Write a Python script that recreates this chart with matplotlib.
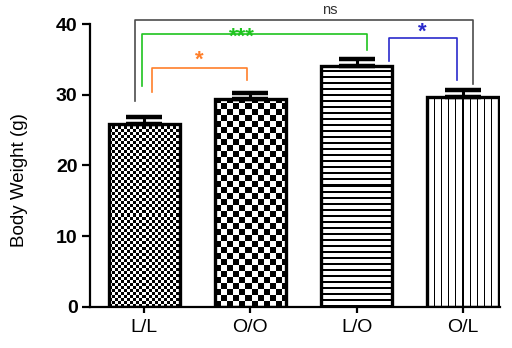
import numpy as np
import matplotlib
matplotlib.use('agg')
import matplotlib.pyplot as plt

plt.rc('font', family=['Liberation Sans', 'DejaVu Sans'])

groups = ['L/L', 'O/O', 'L/O', 'O/L']
weight = [25.9, 29.4, 34.1, 29.7]
sem = [0.9, 0.9, 0.9, 0.9]
fills = ['check_fine', 'check_coarse', 'hlines', 'vlines']

# significance brackets: (x0, x1, y, left leg bottom, right leg bottom, label, color)
brackets = [
    (-0.085, 3.095, 40.6, 29.1, 31.5, 'ns', '#4d4d4d'),
    (-0.02, 2.10, 38.6, 31.2, 36.3, '***', '#1fc41f'),
    (0.075, 0.97, 33.8, 30.4, 32.1, '*', '#ff7f2a'),
    (2.30, 2.94, 38.0, 34.8, 32.1, '*', '#2a2acc'),
]
label_pos = [(1.75, 41.0), (0.92, 38.2), (0.52, 34.9), (2.62, 38.9)]

fig = plt.figure(figsize=(5.12, 3.48), dpi=100)
ax = fig.add_axes([0.176, 0.118, 0.801, 0.813])
x = np.arange(len(groups))
ax.set_xlim(-0.508, 3.35)
ax.set_ylim(0, 40)

bars = ax.bar(x, weight, width=0.67, facecolor='none', edgecolor='black',
              linewidth=2.4, zorder=3)
ax.errorbar(x, weight, yerr=[np.zeros(4), sem], fmt='none', ecolor='black',
            elinewidth=2.2, capsize=13, capthick=3.2, zorder=2.5)


def texture(bar, kind):
    # pixel-exact fill pattern clipped to the bar outline
    x0, y0 = bar.get_x(), bar.get_y()
    w, h = bar.get_width(), bar.get_height()
    (px0, py0), (px1, py1) = ax.transData.transform([(x0, y0), (x0 + w, y0 + h)])
    nw, nh = int(round(px1 - px0)), int(round(py1 - py0))
    jj, ii = np.meshgrid(np.arange(nw), np.arange(nh))
    if kind == 'check_fine':
        img = ((ii // 3 + jj // 3) % 2).astype(float)
    elif kind == 'check_coarse':
        img = ((ii // 6 + jj // 6) % 2).astype(float)
    elif kind == 'hlines':
        img = np.where(ii % 6 < 2, 0.0, 1.0)
    else:
        img = np.where(jj % 7 < 1, 0.0, 1.0)
    im = ax.imshow(img, cmap='gray', vmin=0, vmax=1, origin='lower',
                   extent=(x0, x0 + w, y0, y0 + h), interpolation='nearest',
                   aspect='auto', zorder=2)
    im.set_clip_path(bar)


for b, kind in zip(bars, fills):
    texture(b, kind)

ax.set_xlim(-0.508, 3.35)
ax.set_ylim(0, 40)

for (x0, x1, y, yl, yr, label, color), (tx, ty) in zip(brackets, label_pos):
    ax.plot([x0, x0, x1, x1], [yl, y, y, yr], color=color, lw=1.2,
            clip_on=False, zorder=4)
    if label == 'ns':
        ax.text(tx, ty, label, color='#333333', fontsize=10.5,
                ha='center', va='bottom')
    else:
        ax.text(tx, ty, label, color=color, fontsize=16, fontweight='bold',
                ha='center', va='center')

ax.spines['top'].set_visible(False)
ax.spines['right'].set_visible(False)
ax.spines['left'].set_linewidth(1.6)
ax.spines['bottom'].set_linewidth(1.6)
ax.set_yticks([0, 10, 20, 30, 40])
ax.tick_params(axis='y', length=6, width=1.6, labelsize=14, pad=3)
ax.tick_params(axis='x', length=4, width=1.6, labelsize=14, pad=5)
for t in ax.get_yticklabels():
    t.set_fontweight('bold')
ax.set_xticks(x)
ax.set_xticklabels(groups)
ax.set_ylabel('Body Weight (g)', fontsize=13.5)
ax.yaxis.set_label_coords(-0.152, 0.45)

fig.savefig('out.png', dpi=100)
